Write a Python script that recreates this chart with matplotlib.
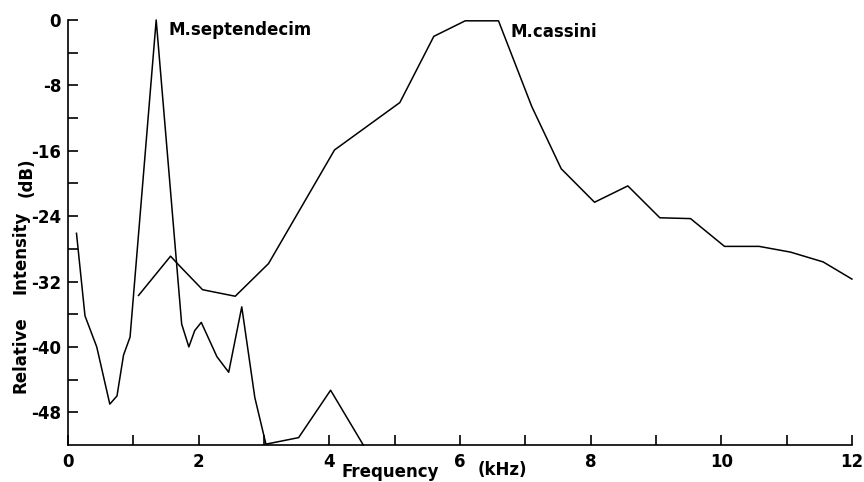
import matplotlib.pyplot as plt
import numpy as np

# M. septendecim spectrum (frequency kHz, relative intensity dB)
sept_freq = [0.13, 0.26, 0.44, 0.64, 0.75, 0.85, 0.95, 1.35, 1.74, 1.85, 1.94, 2.04,
             2.28, 2.46, 2.66, 2.86, 3.03, 3.53, 4.02, 4.52]
sept_db = [-26.1, -36.2, -40.0, -47.0, -46.0, -41.0, -38.8, 0.0, -37.2, -40.0, -38.0, -37.0,
           -41.2, -43.1, -35.1, -46.2, -51.9, -51.1, -45.3, -52.0]

# M. cassini spectrum
cass_freq = [1.08, 1.57, 1.71, 2.06, 2.56, 3.07, 4.08, 5.08, 5.60, 6.08, 6.59, 7.10,
             7.55, 8.06, 8.57, 9.06, 9.53, 10.05, 10.58, 11.06, 11.56, 12.0]
cass_db = [-33.7, -28.9, -30.1, -33.0, -33.8, -29.8, -15.9, -10.1, -2.0, -0.1, -0.1, -10.6,
           -18.2, -22.3, -20.3, -24.2, -24.3, -27.7, -27.7, -28.4, -29.6, -31.7]

x_ticks = np.arange(0, 13, 1)
x_labels = [str(v) if v % 2 == 0 else '' for v in x_ticks]
y_ticks = np.arange(-48, 1, 4)
y_labels = [str(v) if v % 8 == 0 else '' for v in y_ticks]

fig = plt.figure(figsize=(8.64, 4.82), dpi=100)
ax = fig.add_axes([0.0787, 0.0768, 0.9073, 0.8817])

ax.plot(sept_freq, sept_db, color='black', lw=1.1, clip_on=False)
ax.plot(cass_freq, cass_db, color='black', lw=1.1, clip_on=False)

ax.set_xlim(0, 12)
ax.set_ylim(-52, 0)

for s in ['top', 'right']:
    ax.spines[s].set_visible(False)
for s in ['left', 'bottom']:
    ax.spines[s].set_linewidth(1.2)

ax.set_xticks(x_ticks)
ax.set_xticklabels(x_labels)
ax.set_yticks(y_ticks)
ax.set_yticklabels(y_labels)
ax.tick_params(direction='in', length=7, width=1.2, labelsize=12)
ax.tick_params(axis='y', pad=5)
ax.tick_params(axis='x', pad=6)
for lab in ax.get_xticklabels() + ax.get_yticklabels():
    lab.set_fontweight('bold')

ax.text(1.54, -1.2, 'M.septendecim', fontsize=12, fontweight='bold', va='center')
ax.text(6.77, -1.5, 'M.cassini', fontsize=12, fontweight='bold', va='center')

# axis labels, laid out in pieces as in the original
fig.text(0.0235, 0.185, 'Relative', rotation=90, fontsize=12, fontweight='bold',
         ha='center', va='bottom')
fig.text(0.0235, 0.39, 'Intensity', rotation=90, fontsize=12, fontweight='bold',
         ha='center', va='bottom')
fig.text(0.031, 0.592, '(dB)', rotation=90, fontsize=12, fontweight='bold',
         ha='center', va='bottom')
fig.text(0.452, 0.02, 'Frequency', fontsize=12, fontweight='bold', ha='center', va='center')
fig.text(0.582, 0.025, '(kHz)', fontsize=12, fontweight='bold', ha='center', va='center')

plt.savefig('out.png', dpi=100)
plt.close()
